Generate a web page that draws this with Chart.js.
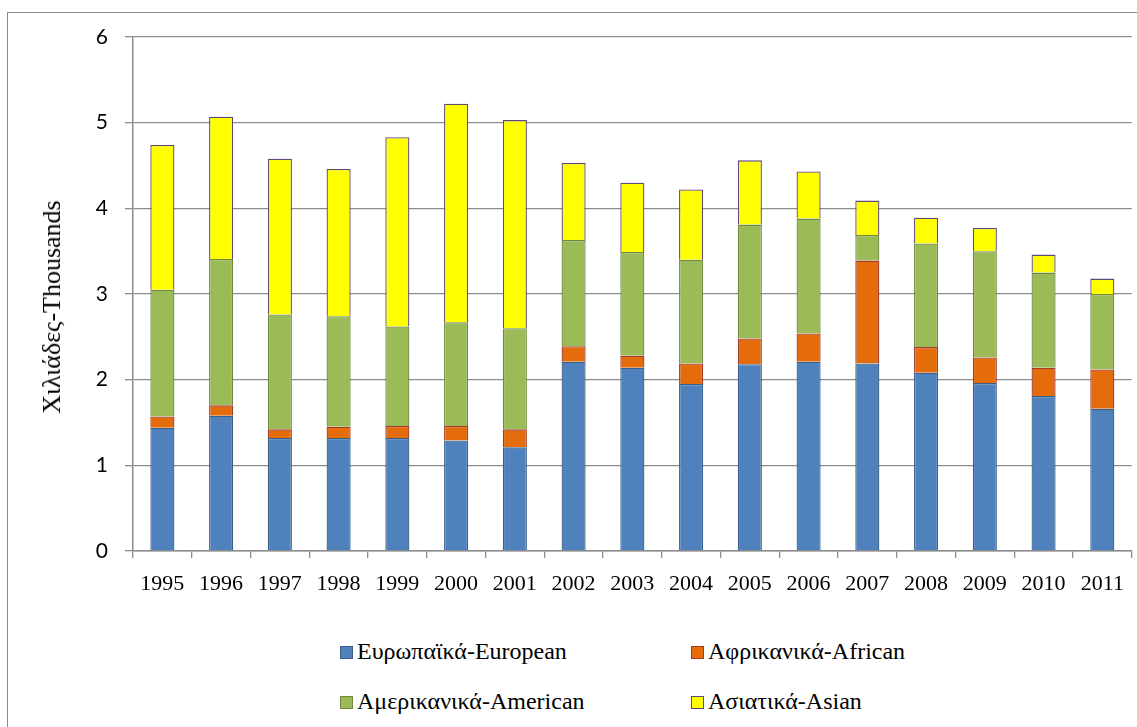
<!DOCTYPE html>
<html>
<head>
<meta charset="utf-8">
<script src="https://cdn.jsdelivr.net/npm/chart.js@4/dist/chart.umd.min.js"></script>
<style>
  html, body { margin: 0; padding: 0; background: #fff; overflow: hidden; }
  #frame { position: absolute; left: 7px; top: 12px; width: 1300px; height: 900px; border: 1px solid #8c8c8c; box-sizing: border-box; }
  #wrap { position: absolute; left: 0; top: 0; width: 1137px; height: 615px; }
  #ytitle { position: absolute; left: 52px; top: 307px; transform: translate(-50%, -50%) rotate(-90deg);
    font-family: "Liberation Serif", serif; font-size: 26px; color: #000; white-space: nowrap; }
  .legend { position: absolute; font-family: "Liberation Serif", serif; font-size: 24px; line-height: 28px; color: #000; white-space: nowrap; }
  .legend span.box { display: inline-block; width: 11px; height: 11px; border: 1.5px solid; margin-right: 4px; vertical-align: 0px; }
</style>
</head>
<body>
<div id="frame"></div>
<div id="wrap"><canvas id="chart"></canvas></div>
<div id="ytitle">Χιλιάδες-Thousands</div>
<div id="legend"></div>
<script>
const years = ['1995', '1996', '1997', '1998', '1999', '2000', '2001', '2002', '2003',
  '2004', '2005', '2006', '2007', '2008', '2009', '2010', '2011'];

// thousands
const european = [1.44, 1.58, 1.32, 1.32, 1.32, 1.29, 1.21, 2.21, 2.14, 1.95, 2.18, 2.21, 2.19, 2.08, 1.96, 1.81, 1.66];
const african  = [0.13, 0.12, 0.10, 0.13, 0.14, 0.17, 0.21, 0.18, 0.14, 0.24, 0.30, 0.33, 1.20, 0.30, 0.30, 0.33, 0.46];
const american = [1.48, 1.71, 1.34, 1.29, 1.16, 1.21, 1.18, 1.24, 1.21, 1.21, 1.33, 1.34, 0.30, 1.21, 1.24, 1.11, 0.88];
const asian    = [1.69, 1.66, 1.82, 1.72, 2.21, 2.55, 2.43, 0.90, 0.81, 0.82, 0.75, 0.55, 0.40, 0.30, 0.27, 0.21, 0.18];

const yTicks = [0, 1, 2, 3, 4, 5, 6];

const series = [
  { label: 'Ευρωπαϊκά-European', data: european, fill: '#4f81bd', line: '#3a5f8b' },
  { label: 'Αφρικανικά-African', data: african, fill: '#e46c0a', line: '#a2372c' },
  { label: 'Αμερικανικά-American', data: american, fill: '#9bbb59', line: '#71893f' },
  { label: 'Ασιατικά-Asian', data: asian, fill: '#ffff00', line: '#5f497a' }
];

const gridColor = '#8c8c8c';

const ctx = document.getElementById('chart').getContext('2d');

new Chart(ctx, {
  type: 'bar',
  data: {
    labels: years,
    datasets: series.map(s => ({
      label: s.label,
      data: s.data,
      backgroundColor: s.fill,
      borderColor: s.line,
      borderWidth: 1.3,
      barPercentage: 0.41,
      categoryPercentage: 1
    }))
  },
  options: {
    responsive: true,
    maintainAspectRatio: false,
    animation: false,
    layout: { padding: { top: 37, right: 3, left: 0, bottom: 0 } },
    plugins: {
      legend: { display: false },
      tooltip: { enabled: false }
    },
    scales: {
      x: {
        stacked: true,
        afterFit: scale => { scale.height = 64; },
        grid: {
          offset: true,
          drawOnChartArea: false,
          drawTicks: true,
          tickLength: 7,
          color: gridColor,
          lineWidth: 1.3
        },
        border: { color: gridColor, width: 1.5 },
        ticks: {
          color: '#000',
          padding: 13,
          maxRotation: 0,
          font: { family: 'Liberation Serif', size: 22 }
        }
      },
      y: {
        stacked: true,
        min: 0,
        max: 6,
        afterFit: scale => { scale.width = 133; },
        afterBuildTicks: scale => { scale.ticks = yTicks.map(v => ({ value: v })); },
        grid: {
          color: gridColor,
          lineWidth: 1.3,
          tickLength: 8
        },
        border: { color: gridColor, width: 1.5 },
        ticks: {
          color: '#000',
          padding: 17,
          font: { family: 'Lato', size: 21 }
        }
      }
    }
  }
});

// legend, two rows of two
const legendPos = [[340, 637], [691, 637], [340, 687], [691, 687]];
const legendEl = document.getElementById('legend');
series.forEach((s, i) => {
  const item = document.createElement('div');
  item.className = 'legend';
  item.style.left = legendPos[i][0] + 'px';
  item.style.top = legendPos[i][1] + 'px';
  const box = document.createElement('span');
  box.className = 'box';
  box.style.background = s.fill;
  box.style.borderColor = s.line;
  item.appendChild(box);
  item.appendChild(document.createTextNode(s.label));
  legendEl.appendChild(item);
});
</script>
</body>
</html>
